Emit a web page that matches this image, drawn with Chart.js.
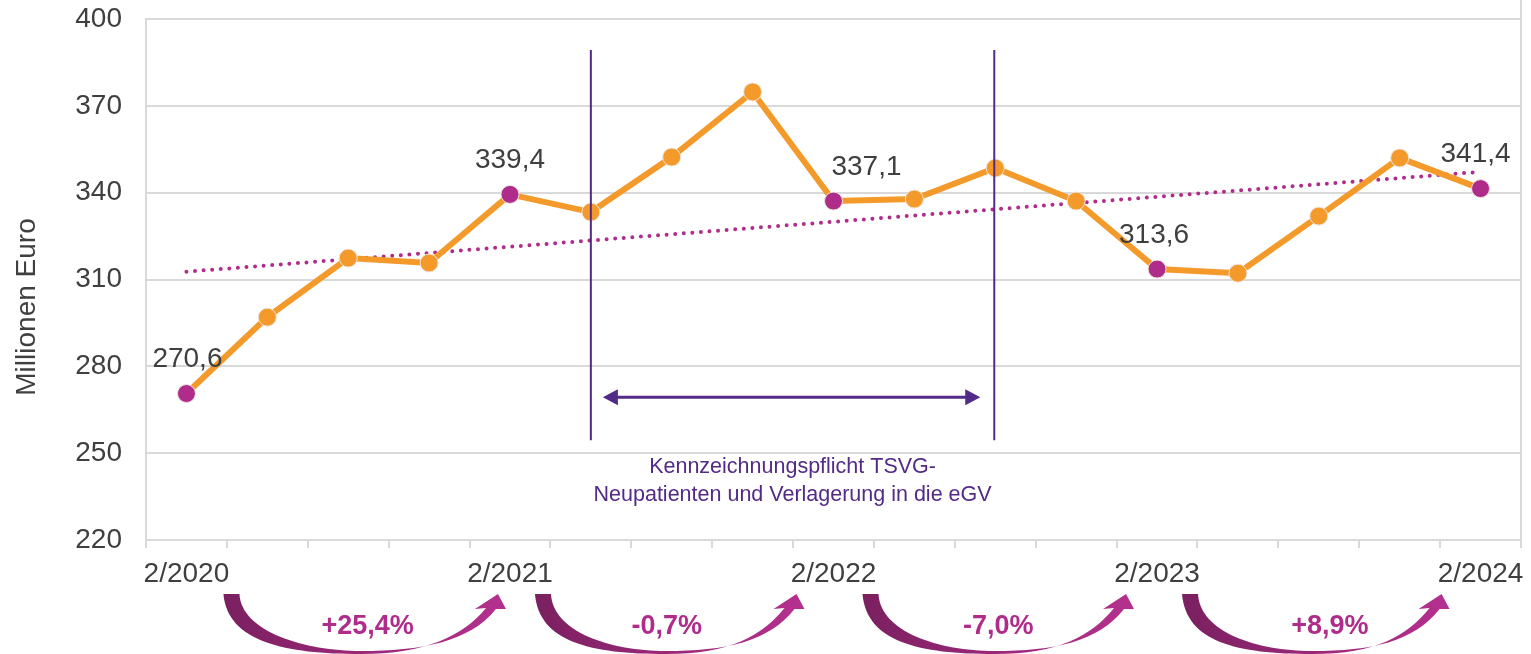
<!DOCTYPE html>
<html>
<head>
<meta charset="utf-8">
<script src="https://cdn.jsdelivr.net/npm/chart.js@4.4.1/dist/chart.umd.min.js"></script>
<style>
  html, body { margin: 0; padding: 0; background: #fff; }
  #wrap { width: 1531px; height: 654px; position: relative; }
</style>
</head>
<body>
<div id="wrap"><canvas id="chart"></canvas></div>
<script>
// quarterly values, Mio. Euro
const quarters = ['2/2020', '', '', '', '2/2021', '', '', '', '2/2022', '', '', '', '2/2023', '', '', '', '2/2024'];
const amounts = [270.6, 297.0, 317.4, 315.7, 339.4, 333.3, 352.3, 374.8, 337.1, 337.8, 348.5, 337.1, 313.6, 312.2, 331.9, 352.0, 341.4];
const highlighted = [0, 4, 8, 12, 16];
const trendStart = 312.7;
const trendEnd = 347.2;
const growthLabels = ['+25,4%', '-0,7%', '-7,0%', '+8,9%'];
const periodStart = 5;
const periodEnd = 10;
const periodText = ['Kennzeichnungspflicht TSVG-', 'Neupatienten und Verlagerung in die eGV'];
const yTicks = [220, 250, 280, 310, 340, 370, 400];
const yTitle = 'Millionen Euro';

const ORANGE = '#F39A2B';
const MAGENTA = '#B02C8A';
const VIOLET = '#532A87';
const TEXT = '#3F3F3F';
const FONT = '"Liberation Sans", Arial, sans-serif';

// trend line only has its two end values
const trend = amounts.map(() => null);
trend[0] = trendStart;
trend[trend.length - 1] = trendEnd;

const pointColors = amounts.map((v, i) => highlighted.includes(i) ? MAGENTA : ORANGE);

function fmt(v) {
    return v.toFixed(1).replace('.', ',');
}

// draws value labels, the period marker and the growth arrows
const extras = {
    id: 'extras',
    afterDatasetsDraw(chart) {
        const ctx = chart.ctx;
        const x = chart.scales.x;
        const y = chart.scales.y;
        const area = chart.chartArea;

        // axis title, sits a bit lower than the plot middle
        ctx.save();
        ctx.translate(27, 307);
        ctx.rotate(-Math.PI / 2);
        ctx.font = '28px ' + FONT;
        ctx.fillStyle = TEXT;
        ctx.textAlign = 'center';
        ctx.textBaseline = 'middle';
        ctx.fillText(yTitle, 0, 0);
        ctx.restore();

        // value labels above the highlighted points
        const shiftX = [1, 0, 33, -3, -5];
        ctx.save();
        ctx.font = '28px ' + FONT;
        ctx.fillStyle = TEXT;
        ctx.textAlign = 'center';
        ctx.textBaseline = 'middle';
        highlighted.forEach((idx, k) => {
            const px = x.getPixelForValue(idx) + shiftX[k];
            const py = y.getPixelForValue(amounts[idx]) - 34;
            ctx.fillText(fmt(amounts[idx]), px, py);
        });
        ctx.restore();

        // period lines
        const x1 = x.getPixelForValue(periodStart);
        const x2 = x.getPixelForValue(periodEnd) - 1;
        const top = y.getPixelForValue(389.3);
        const bottom = y.getPixelForValue(254.5);
        ctx.save();
        ctx.strokeStyle = VIOLET;
        ctx.lineWidth = 2;
        [x1, x2].forEach(px => {
            ctx.beginPath();
            ctx.moveTo(px, top);
            ctx.lineTo(px, bottom);
            ctx.stroke();
        });

        // double arrow
        const ay = y.getPixelForValue(269.3);
        const ax1 = x1 + 12;
        const ax2 = x2 - 14;
        ctx.lineWidth = 3;
        ctx.beginPath();
        ctx.moveTo(ax1 + 10, ay);
        ctx.lineTo(ax2 - 10, ay);
        ctx.stroke();
        ctx.fillStyle = VIOLET;
        ctx.beginPath();
        ctx.moveTo(ax1, ay);
        ctx.lineTo(ax1 + 15, ay - 8);
        ctx.lineTo(ax1 + 15, ay + 8);
        ctx.closePath();
        ctx.fill();
        ctx.beginPath();
        ctx.moveTo(ax2, ay);
        ctx.lineTo(ax2 - 15, ay - 8);
        ctx.lineTo(ax2 - 15, ay + 8);
        ctx.closePath();
        ctx.fill();

        // period caption
        ctx.font = '21.5px ' + FONT;
        ctx.textAlign = 'center';
        ctx.textBaseline = 'middle';
        const cx = (x1 + x2) / 2;
        ctx.fillText(periodText[0], cx, y.getPixelForValue(245.2));
        ctx.fillText(periodText[1], cx, y.getPixelForValue(235.5));
        ctx.restore();

        // right border of the plot box
        ctx.save();
        ctx.strokeStyle = '#D9D9D9';
        ctx.lineWidth = 2;
        ctx.beginPath();
        ctx.moveTo(area.right, 0);
        ctx.lineTo(area.right, area.bottom + 8);
        ctx.stroke();
        ctx.restore();

        // curved growth arrows under the axis
        const tailShift = [37, 25, 29, 25];
        const tipShift = [-12, -37, -31, -39];
        const textShift = [7, 1, 4, 18];
        growthLabels.forEach((label, k) => {
            const x0 = x.getPixelForValue(highlighted[k]) + tailShift[k];
            const xt = x.getPixelForValue(highlighted[k + 1]) + tipShift[k];
            const mid = (x0 + xt) / 2;
            const t = 594;
            const b = 654;
            const grad = ctx.createLinearGradient(x0, 0, xt, 0);
            grad.addColorStop(0, '#7A2060');
            grad.addColorStop(0.5, '#9A2878');
            grad.addColorStop(1, '#B4308E');
            ctx.save();
            ctx.fillStyle = grad;
            ctx.beginPath();
            ctx.moveTo(x0, t);
            ctx.bezierCurveTo(x0 + 4, 642, mid - 75, b, mid, b);
            ctx.bezierCurveTo(mid + 65, b, xt - 35, 636, xt - 12, 608);
            ctx.lineTo(xt - 23, 609);
            ctx.lineTo(xt, t);
            ctx.lineTo(xt + 8, 609);
            ctx.lineTo(xt - 2, 609);
            ctx.bezierCurveTo(xt - 28, 642, mid + 60, 651, mid, 651);
            ctx.bezierCurveTo(mid - 55, 651, x0 + 18, 632, x0 + 16, t);
            ctx.closePath();
            ctx.fill();

            ctx.font = 'bold 27px ' + FONT;
            ctx.fillStyle = MAGENTA;
            ctx.textAlign = 'center';
            ctx.textBaseline = 'middle';
            ctx.fillText(label, mid + textShift[k], 627);
            ctx.restore();
        });
    }
};

new Chart(document.getElementById('chart'), {
    type: 'line',
    data: {
        labels: quarters,
        datasets: [
            {
                label: 'Millionen Euro',
                data: amounts,
                borderColor: ORANGE,
                borderWidth: 6,
                pointRadius: 9,
                pointBackgroundColor: pointColors,
                pointBorderColor: '#EDE3DD',
                pointBorderWidth: 1,
                order: 0
            },
            {
                label: 'Trend',
                data: trend,
                spanGaps: true,
                borderColor: MAGENTA,
                borderWidth: 4,
                borderDash: [0, 8.6],
                borderCapStyle: 'round',
                pointRadius: 0,
                order: 1
            }
        ]
    },
    options: {
        responsive: true,
        maintainAspectRatio: false,
        animation: false,
        layout: { padding: { left: 0, right: 8, top: 19, bottom: 0 } },
        plugins: {
            legend: { display: false },
            tooltip: { enabled: false }
        },
        scales: {
            x: {
                type: 'category',
                offset: true,
                grid: {
                    offset: true,
                    drawOnChartArea: false,
                    drawTicks: true,
                    tickLength: 8,
                    color: '#D9D9D9',
                    lineWidth: 2
                },
                border: { color: '#D9D9D9', width: 2 },
                ticks: {
                    autoSkip: false,
                    maxRotation: 0,
                    padding: 9,
                    color: TEXT,
                    font: { family: FONT, size: 28 }
                },
                afterFit(scale) {
                    scale.height = 114;
                    scale.paddingLeft = 0;
                    scale.paddingRight = 0;
                    scale.paddingTop = 0;
                    scale.paddingBottom = 0;
                }
            },
            y: {
                min: 220,
                max: 400,
                afterBuildTicks(scale) {
                    scale.ticks = yTicks.map(v => ({ value: v }));
                },
                grid: {
                    color: '#D9D9D9',
                    lineWidth: 2,
                    drawTicks: false
                },
                border: { color: '#D9D9D9', width: 2 },
                ticks: {
                    padding: 24,
                    color: TEXT,
                    font: { family: FONT, size: 28 }
                },
                title: { display: false },
                afterFit(scale) {
                    scale.width = 146;
                    scale.paddingTop = 0;
                    scale.paddingBottom = 0;
                }
            }
        }
    },
    plugins: [extras]
});
</script>
</body>
</html>
